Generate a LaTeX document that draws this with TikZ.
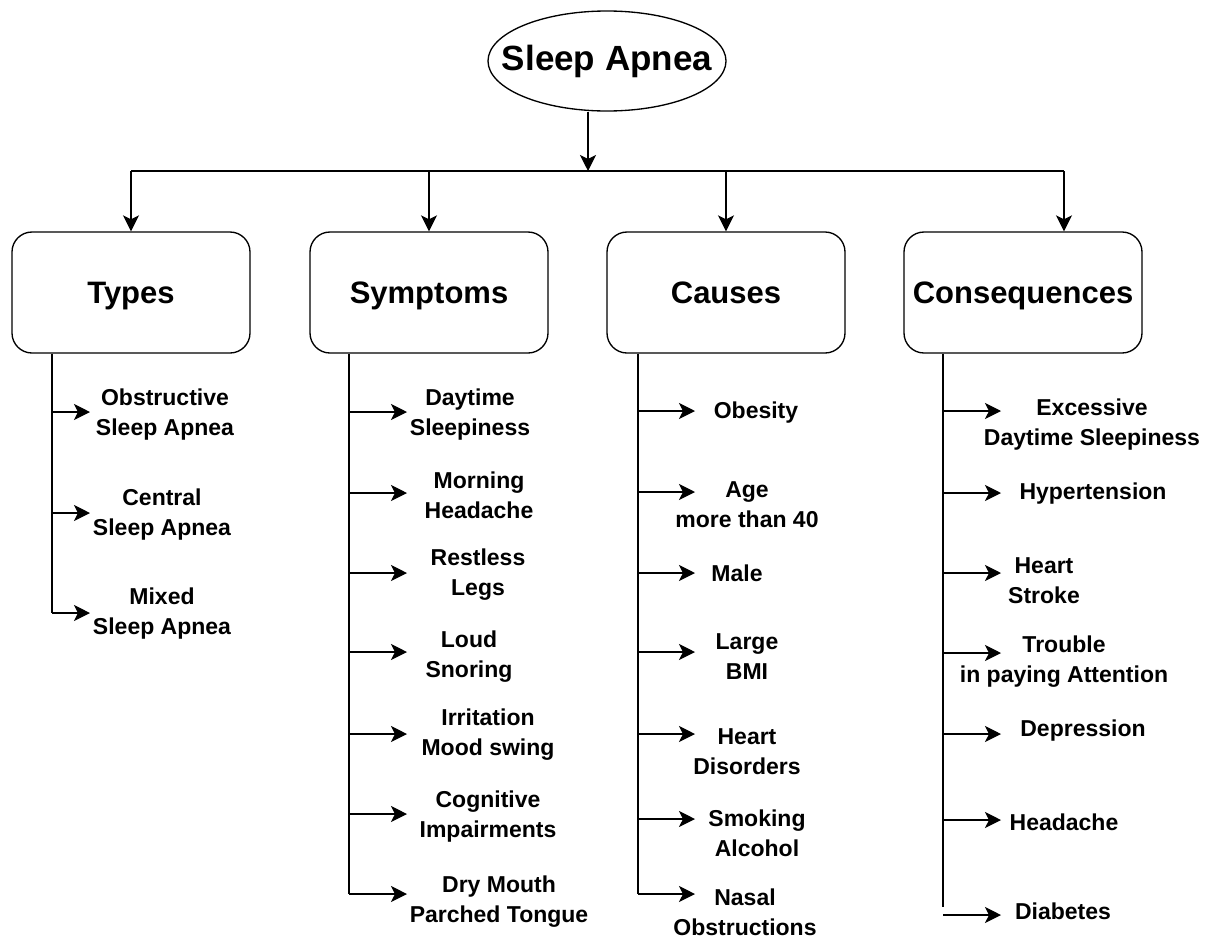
\documentclass[tikz,border=0pt]{standalone}
\usepackage{fontspec}
\setmainfont{Liberation Sans}
\usetikzlibrary{arrows.meta,shapes.geometric}

\begin{document}
\begin{tikzpicture}[x=0.75pt,y=-0.75pt,line width=1pt,
    tip/.style={-{Stealth[length=12pt,width=12pt,inset=3pt]}},
    headbox/.style={draw,rounded corners=15pt,minimum width=178.5pt,
      minimum height=90.75pt,text height=20.9pt,text depth=4.3pt,
      font=\bfseries\fontsize{23.25}{28}\selectfont},
    leaf/.style={align=center,inner sep=0pt,
      font=\bfseries\fontsize{17.25}{22.5}\selectfont}]
  \fill[white] (0,0) rectangle (1212,939);
  \useasboundingbox (0,0) rectangle (1212,939);
  % the root and the bus
  \node[draw,ellipse,minimum width=178.5pt,minimum height=75pt,inner sep=0pt,
    font=\bfseries\fontsize{26.25}{30}\selectfont] (root) at (607,61)
    {\makebox[0pt]{Sleep Apnea}};
  \coordinate (hub) at (588,171);
  \draw[tip] (hub |- root.south) -- (hub);
  % the four headings
  \node[headbox] (types) at (131,292.5) {Types};
  \node[headbox] (symptoms) at (429,292.5) {Symptoms};
  \node[headbox] (causes) at (726,292.5) {Causes};
  \node[headbox] (conseq) at (1023,292.5) {Consequences};
  \coordinate (busL) at (types.north |- hub);
  \coordinate (busR) at (1064,171);
  \draw (busL) -- (busR);
  \foreach \b in {types,symptoms,causes} \draw[tip] (\b.north |- hub) -- (\b.north);
  \draw[tip] (busR) -- (busR |- conseq.north);
  % types
  \foreach \i/\y/\lx/\ly/\txt in {1/412/165/415/{Obstructive\\Sleep Apnea},
      2/513/162/515/{Central\\Sleep Apnea},
      3/613/162/614/{Mixed\\Sleep Apnea}} {
    \coordinate (ty\i) at (52,\y);
    \coordinate (tyend\i) at (90,\y);
    \draw[tip] (ty\i) -- (tyend\i);
    \node[leaf] (tylabel\i) at (\lx,\ly) {\txt};
  }
  \draw (types.south -| ty3) -- (ty3);
  % symptoms
  \foreach \i/\y/\lx/\ly/\txt in {1/412/470/415/{Daytime\\Sleepiness},
      2/493/479/495/{Morning\\Headache},
      3/573/478/575/{Restless\\Legs},
      4/652/469/657/{Loud\\Snoring},
      5/734/488/735/{Irritation\\Mood swing},
      6/814/488/817/{Cognitive\\Impairments},
      7/894/499/902/{Dry Mouth\\Parched Tongue}} {
    \coordinate (sy\i) at (349,\y);
    \coordinate (syend\i) at (407,\y);
    \draw[tip] (sy\i) -- (syend\i);
    \node[leaf] (sylabel\i) at (\lx,\ly) {\txt};
  }
  \draw (symptoms.south -| sy7) -- (sy7);
  % causes
  \foreach \i/\y/\lx/\ly/\txt in {1/411/756/413/{Obesity},
      2/492/747/505/{Age\\more than 40},
      3/573/737/573/{Male},
      4/652/747/657/{Large\\BMI},
      5/734/747/752/{Heart\\Disorders},
      6/819/757/833/{Smoking\\Alcohol},
      7/894/745/912/{Nasal\\Obstructions}} {
    \coordinate (ca\i) at (638,\y);
    \coordinate (caend\i) at (695,\y);
    \draw[tip] (ca\i) -- (caend\i);
    \node[leaf] (calabel\i) at (\lx,\ly) {\txt};
  }
  \draw (causes.south -| ca7) -- (ca7);
  % consequences
  \foreach \i/\y/\lx/\ly/\txt in {1/411/1092/425/{Excessive\\Daytime Sleepiness},
      2/493/1093/494/{Hypertension},
      3/573/1044/581/{Heart\\Stroke},
      4/653/1064/662/{Trouble\\in paying Attention},
      5/734/1083/731/{Depression},
      6/820/1064/822/{Headache},
      7/915/1063/911/{Diabetes}} {
    \coordinate (co\i) at (943,\y);
    \coordinate (coend\i) at (1001,\y);
    \draw[tip] (co\i) -- (coend\i);
    \node[leaf] (colabel\i) at (\lx,\ly) {\txt};
  }
  \coordinate (cobottom) at (943,907);
  \draw (conseq.south -| cobottom) -- (cobottom);
\end{tikzpicture}
\end{document}
